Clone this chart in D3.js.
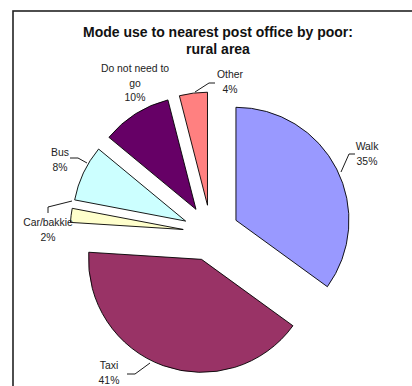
<!DOCTYPE html>
<html>
<head>
<meta charset="utf-8">
<script src="https://cdn.jsdelivr.net/npm/d3@7"></script>
<style>
  html, body { margin: 0; padding: 0; background: #fff; }
  svg { display: block; }
  text { font-family: "Liberation Sans", Arial, sans-serif; }
</style>
</head>
<body>
<svg id="chart" width="412" height="386"></svg>
<script>
// Travel mode shares (percent)
const categories = ["Walk", "Taxi", "Car/bakkie", "Bus", "Do not need to go", "Other"];
const shares = [35, 41, 2, 8, 10, 4];
const labelLines = [["Walk"], ["Taxi"], ["Car/bakkie"], ["Bus"], ["Do not need to", "go"], ["Other"]];
const fills = ["#9999FF", "#993366", "#FFFFCC", "#CCFFFF", "#660066", "#FF8080"];

const W = 412, H = 386;
const cx = 211, cy = 233, radius = 113, explode = 28;

const svg = d3.select("#chart");

// Chart area frame (runs off the right and bottom edges)
svg.append("rect")
  .attr("x", 13).attr("y", 11)
  .attr("width", 440).attr("height", 420)
  .attr("fill", "none").attr("stroke", "#222").attr("stroke-width", 1.6);

// Title
const title = svg.append("text")
  .attr("text-anchor", "middle")
  .attr("font-weight", "bold").attr("font-size", 14)
  .attr("fill", "#111");
title.append("tspan").attr("x", 218).attr("y", 37).text("Mode use to nearest post office by poor:");
title.append("tspan").attr("x", 218).attr("y", 54).text("rural area");

const pie = d3.pie().sort(null).value(d => d).startAngle(0).endAngle(2 * Math.PI);
const arcs = pie(shares);
const arcGen = d3.arc().innerRadius(0).outerRadius(radius);

const g = svg.append("g").attr("transform", `translate(${cx},${cy})`);

g.selectAll("path.slice")
  .data(arcs)
  .join("path")
  .attr("class", "slice")
  .attr("d", arcGen)
  .attr("fill", (d, i) => fills[i])
  .attr("stroke", "#000")
  .attr("stroke-width", 0.9)
  .attr("transform", d => {
    const a = (d.startAngle + d.endAngle) / 2;
    return `translate(${explode * Math.sin(a)},${-explode * Math.cos(a)})`;
  });

// Label placement: text centre, first line baseline, leader polyline
const labelLayout = [
  { x: 367, y: 150, leader: [[341, 172], [349, 154], [355, 154]] },
  { x: 109, y: 369, leader: [[150, 363], [135, 374], [127, 374]] },
  { x: 48,  y: 226, leader: [[72, 201], [48, 207], [48, 213]] },
  { x: 60,  y: 156, leader: [[87, 163], [78, 158], [70, 158]] },
  { x: 135, y: 72,  leader: null },
  { x: 230, y: 78,  leader: [[195, 92], [209, 83], [215, 83]] }
];

const lineGap = 14.5;
labelLayout.forEach((L, i) => {
  if (L.leader) {
    svg.append("path")
      .attr("d", d3.line()(L.leader))
      .attr("fill", "none").attr("stroke", "#000").attr("stroke-width", 0.9);
  }
  const t = svg.append("text")
    .attr("text-anchor", "middle")
    .attr("font-size", 10.4)
    .attr("fill", "#222");
  const lines = labelLines[i].concat([shares[i] + "%"]);
  lines.forEach((s, k) => {
    t.append("tspan").attr("x", L.x).attr("y", L.y + k * lineGap).text(s);
  });
});
</script>
</body>
</html>
